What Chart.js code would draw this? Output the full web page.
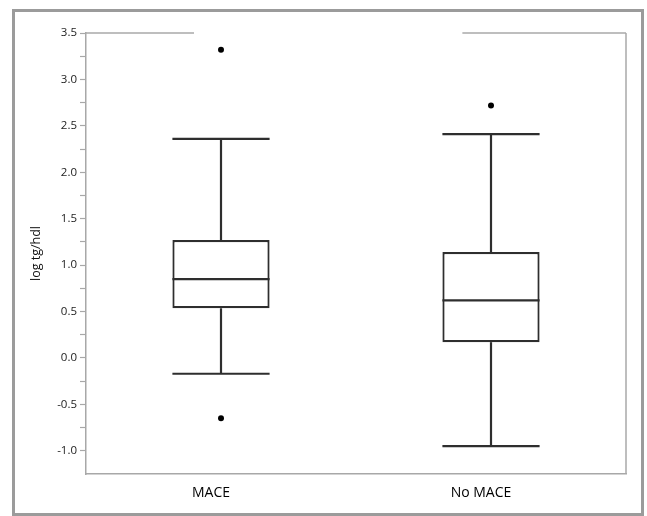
<!DOCTYPE html>
<html>
<head>
<meta charset="utf-8">
<script src="https://cdn.jsdelivr.net/npm/chart.js@4.4.1/dist/chart.umd.min.js"></script>
<style>
  html, body { margin: 0; padding: 0; background: #fff; }
  #frame { position: absolute; left: 12px; top: 9px; width: 626px; height: 501px; border: 3px solid #9b9b9b; }
  canvas { display: block; }
</style>
</head>
<body>
<div id="frame"><canvas id="boxChart"></canvas></div>
<script>
// box plot values (log tg/hdl)
const groups = ['MACE', 'No MACE'];
const whiskerLow = [-0.17, -0.95];
const q1 = [0.535, 0.17];
const median = [0.85, 0.62];
const q3 = [1.27, 1.14];
const whiskerHigh = [2.36, 2.41];
const outlierGroup = ['MACE', 'MACE', 'No MACE'];
const outlierValue = [3.32, -0.65, 2.72];
const yMin = -1.25, yMax = 3.5;

Chart.defaults.font.family = "'Open Sans', 'Noto Sans', sans-serif";

// whiskers, caps, medians and the open plot frame
const boxParts = {
  id: 'boxParts',
  afterDatasetsDraw(chart) {
    const ctx = chart.ctx;
    const y = chart.scales.y;
    const bars = chart.getDatasetMeta(0).data;
    const seg = (x1, y1, x2, y2) => {
      ctx.beginPath();
      ctx.moveTo(x1, y1);
      ctx.lineTo(x2, y2);
      ctx.stroke();
    };
    ctx.save();
    ctx.strokeStyle = '#2e2e2e';
    ctx.lineWidth = 2.2;
    bars.forEach((bar, i) => {
      const half = bar.width / 2;
      const x = bar.x;
      seg(x, y.getPixelForValue(whiskerLow[i]), x, y.getPixelForValue(q1[i]));
      seg(x, y.getPixelForValue(q3[i]), x, y.getPixelForValue(whiskerHigh[i]));
      seg(x - half, y.getPixelForValue(whiskerLow[i]), x + half, y.getPixelForValue(whiskerLow[i]));
      seg(x - half, y.getPixelForValue(whiskerHigh[i]), x + half, y.getPixelForValue(whiskerHigh[i]));
      seg(x - half, y.getPixelForValue(median[i]), x + half, y.getPixelForValue(median[i]));
    });
    const a = chart.chartArea;
    const w = a.right - a.left;
    ctx.strokeStyle = '#a8a8a8';
    ctx.lineWidth = 1.5;
    seg(a.left, a.top, a.left + w * 0.2, a.top);
    seg(a.left + w * 0.697, a.top, a.right, a.top);
    seg(a.right, a.top, a.right, a.bottom);
    ctx.restore();
  }
};

new Chart('boxChart', {
  data: {
    labels: groups,
    datasets: [{
      type: 'bar',
      data: groups.map((g, i) => [q1[i], q3[i]]),
      backgroundColor: '#ffffff',
      borderColor: '#2e2e2e',
      borderWidth: 2.2,
      borderSkipped: false,
      barPercentage: 0.36,
      categoryPercentage: 1
    }, {
      type: 'line',
      showLine: false,
      data: outlierGroup.map((g, i) => ({ x: g, y: outlierValue[i] })),
      pointRadius: 3,
      pointBackgroundColor: '#000',
      pointBorderColor: '#000',
      pointBorderWidth: 0
    }]
  },
  options: {
    responsive: true,
    maintainAspectRatio: false,
    animation: false,
    layout: { padding: { top: 21, right: 15, left: 0, bottom: 0 } },
    plugins: {
      legend: { display: false },
      tooltip: { enabled: false }
    },
    scales: {
      x: {
        type: 'category',
        afterFit(scale) { scale.height = 39; },
        grid: { drawOnChartArea: false, drawTicks: false },
        border: { color: '#a8a8a8', width: 1.5 },
        ticks: { color: '#000', font: { size: 14 }, padding: 11, labelOffset: -10 }
      },
      y: {
        min: yMin,
        max: yMax,
        afterFit(scale) { scale.width = 71; },
        afterBuildTicks(scale) {
          scale.ticks = scale.ticks.filter(t => t.value > -1.1);
        },
        grid: { drawOnChartArea: false, tickLength: 6, color: '#a8a8a8', tickWidth: 1.2 },
        border: { color: '#a8a8a8', width: 1.5 },
        title: { display: true, text: 'log tg/hdl', color: '#111', font: { size: 12.5 }, padding: { top: 14, bottom: 0 } },
        ticks: {
          stepSize: 0.25,
          autoSkip: false,
          padding: 3,
          color: '#222',
          font: { size: 11.5 },
          callback: v => Math.abs(v * 2 - Math.round(v * 2)) < 1e-6 ? v.toFixed(1) : ''
        }
      }
    }
  },
  plugins: [boxParts]
});
</script>
</body>
</html>
